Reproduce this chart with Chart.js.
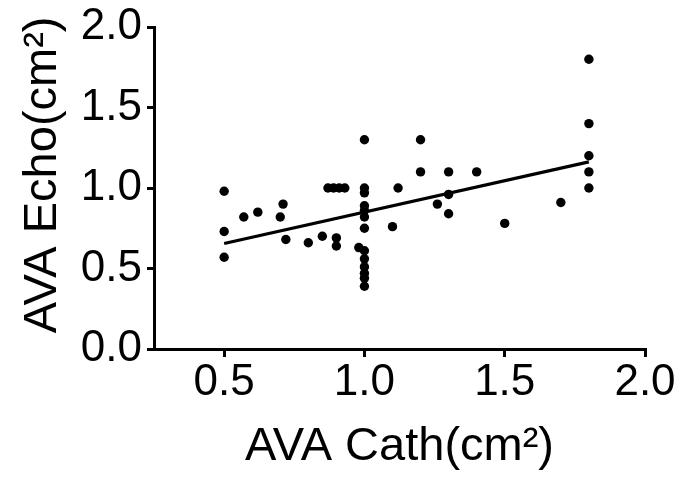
<!DOCTYPE html>
<html>
<head>
<meta charset="utf-8">
<script src="https://cdn.jsdelivr.net/npm/chart.js@4"></script>
<style>
  html, body { margin: 0; padding: 0; background: #fff; }
  #wrap { width: 685px; height: 480px; }
</style>
</head>
<body>
<div id="wrap"><canvas id="c" width="685" height="480"></canvas></div>
<script>
const cathX = [0.5, 0.5, 0.5, 0.57, 0.62, 0.70, 0.71, 0.72, 0.80, 0.85, 0.90, 0.90,
  0.87, 0.89, 0.91, 0.93,
  1.0, 1.0, 1.0, 1.0, 1.0, 1.0, 1.0, 0.98, 1.0, 1.0, 1.0, 1.0, 1.0, 1.0,
  1.1, 1.12, 1.2, 1.2, 1.26, 1.3, 1.3, 1.3, 1.4, 1.5, 1.7,
  1.8, 1.8, 1.8, 1.8, 1.8];
const echoY = [0.98, 0.73, 0.57, 0.82, 0.85, 0.82, 0.90, 0.68, 0.66, 0.70, 0.69, 0.64,
  1.0, 1.0, 1.0, 1.0,
  1.3, 1.0, 0.97, 0.89, 0.86, 0.82, 0.75, 0.63, 0.61, 0.56, 0.51, 0.47, 0.44, 0.39,
  0.76, 1.0, 1.3, 1.1, 0.9, 1.1, 0.96, 0.84, 1.1, 0.78, 0.91,
  1.8, 1.4, 1.2, 1.1, 1.0];
const fitX = [0.5, 1.8];
const fitY = [0.655, 1.162];
const xTicks = [0.5, 1.0, 1.5, 2.0];
const yTicks = [0.0, 0.5, 1.0, 1.5, 2.0];
const xTitle = 'AVA Cath(cm²)';
const yTitle = '  AVA Echo(cm²)';

const points = cathX.map((x, i) => ({x: x, y: echoY[i]}));
const fit = fitX.map((x, i) => ({x: x, y: fitY[i]}));

const FONT = "'Liberation Sans', Arial, sans-serif";

new Chart(document.getElementById('c'), {
  type: 'scatter',
  data: {
    datasets: [
      {
        data: points,
        backgroundColor: '#000',
        borderColor: '#000',
        pointRadius: 4.7,
        pointBorderWidth: 0,
        order: 1
      },
      {
        type: 'line',
        data: fit,
        borderColor: '#000',
        borderWidth: 3.2,
        pointRadius: 0,
        fill: false,
        order: 2
      }
    ]
  },
  options: {
    responsive: false,
    animation: false,
    devicePixelRatio: 1,
    layout: { padding: { left: 0, right: 40, top: 23, bottom: 0 } },
    plugins: { legend: { display: false }, tooltip: { enabled: false } },
    scales: {
      x: {
        type: 'linear',
        min: 0.25,
        max: 2.0,
        afterBuildTicks: (s) => { s.ticks = xTicks.map(v => ({value: v})); },
        afterFit: (s) => { s.height = 131; },
        border: { display: true, color: '#000', width: 3 },
        grid: { display: true, drawOnChartArea: false, drawTicks: true, tickLength: 8, color: '#000', lineWidth: 3 },
        ticks: {
          color: '#000',
          padding: 4,
          font: { family: FONT, size: 44, lineHeight: 1 },
          callback: (v) => Number(v).toFixed(1),
          maxRotation: 0
        },
        title: {
          display: true,
          text: xTitle,
          color: '#000',
          font: { family: FONT, size: 47, lineHeight: 1 },
          padding: { top: 0, bottom: 9 }
        }
      },
      y: {
        type: 'linear',
        min: 0,
        max: 2.0,
        afterBuildTicks: (s) => { s.ticks = yTicks.map(v => ({value: v})); },
        afterFit: (s) => { s.width = 154; },
        border: { display: true, color: '#000', width: 3 },
        grid: { display: true, drawOnChartArea: false, drawTicks: true, tickLength: 7, color: '#000', lineWidth: 3 },
        ticks: {
          color: '#000',
          padding: 5,
          font: { family: FONT, size: 44, lineHeight: 1 },
          callback: (v) => Number(v).toFixed(1)
        },
        title: {
          display: true,
          text: yTitle,
          color: '#000',
          font: { family: FONT, size: 47, lineHeight: 1 },
          padding: { top: 20, bottom: 0 }
        }
      }
    }
  }
});
</script>
</body>
</html>
